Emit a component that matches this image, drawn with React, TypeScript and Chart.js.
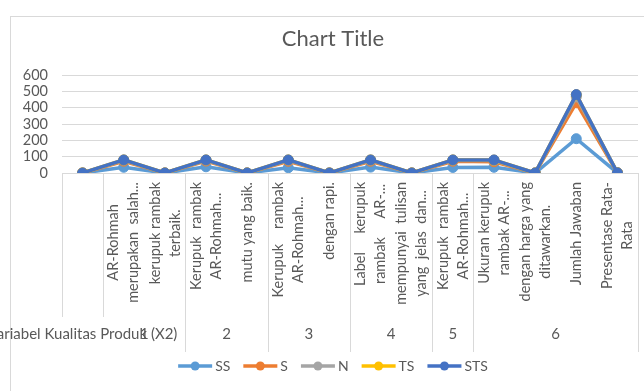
import React, { useEffect, useRef } from "react";
import { Chart, registerables } from "chart.js";

Chart.register(...registerables);

// ---------- data ----------
const categoryLines: string[][] = [
  [""],
  ["AR-Rohmah", "merupakan  salah..."],
  ["kerupuk rambak", "terbaik."],
  ["Kerupuk  rambak", "AR-Rohmah..."],
  ["mutu yang baik."],
  ["Kerupuk    rambak", "AR-Rohmah..."],
  ["dengan rapi."],
  ["Label     kerupuk", "rambak     AR-..."],
  ["mempunyai  tulisan", "yang  jelas  dan..."],
  ["Kerupuk  rambak", "AR-Rohmah..."],
  ["Ukuran kerupuk", "rambak AR-..."],
  ["dengan harga yang", "ditawarkan."],
  ["Jumlah Jawaban"],
  ["Presentase Rata-", "Rata"],
];

const groupLabels = ["Variabel Kualitas Produk (X2)", "1", "2", "3", "4", "5", "6"];
const groupFirst = [0, 1, 3, 5, 7, 9, 10];
const groupLast = [0, 2, 4, 6, 8, 9, 13];

const seriesNames = ["SS", "S", "N", "TS", "STS"];
const seriesColors = ["#5B9BD5", "#ED7D31", "#A5A5A5", "#FFC000", "#4472C4"];

const ssValues = [0, 35, 0, 38, 0, 32, 0, 36, 0, 34, 35, 0, 210, 0.44];
const sValues = [0, 37, 0, 35, 0, 40, 0, 36, 0, 38, 34, 0, 220, 0.46];
const nValues = [0, 6, 0, 5, 0, 6, 0, 6, 0, 6, 7, 0, 36, 0.07];
const tsValues = [0, 2, 0, 2, 0, 2, 0, 2, 0, 2, 3, 0, 13, 0.03];
const stsValues = [0, 0, 0, 0, 0, 0, 0, 0, 0, 0, 1, 0, 1, 0.0];

const yMin = 0;
const yMax = 600;
const yStep = 100;

const titleText = "Chart Title";

// ---------- styles ----------
const FONT = "Lato";
const TEXT_COLOR = "#595959";
const GRID_COLOR = "#d9d9d9";

export default function App() {
  const canvasRef = useRef<HTMLCanvasElement | null>(null);

  useEffect(() => {
    const canvas = canvasRef.current;
    if (!canvas) return;

    const raw = [ssValues, sValues, nValues, tsValues, stsValues];
    // stacked line: cumulative totals
    const cumulative: number[][] = [];
    raw.forEach((arr, si) => {
      cumulative.push(arr.map((v, i) => (si === 0 ? v : cumulative[si - 1][i] + v)));
    });

    const datasets = seriesNames.map((name, si) => ({
      label: name,
      data: cumulative[si],
      borderColor: seriesColors[si],
      backgroundColor: seriesColors[si],
      pointBackgroundColor: seriesColors[si],
      pointBorderColor: seriesColors[si],
      borderWidth: 3.5,
      pointRadius: 5,
      pointBorderWidth: 1,
      tension: 0,
      fill: false,
      order: seriesNames.length - 1 - si,
    }));

    const decor = {
      id: "excelDecor",
      beforeDraw(chart: any) {
        const ctx = chart.ctx;
        ctx.save();
        ctx.fillStyle = "#ffffff";
        ctx.fillRect(0, 0, chart.width, chart.height);
        ctx.restore();
      },
      afterDraw(chart: any) {
        const ctx = chart.ctx as CanvasRenderingContext2D;
        const area = chart.chartArea;
        const n = categoryLines.length;
        const band = (area.right - area.left) / n;
        const axisY = area.bottom;

        ctx.save();
        // chart border
        ctx.strokeStyle = GRID_COLOR;
        ctx.lineWidth = 1;
        ctx.strokeRect(10.5, 16.5, 700, 500);

        // title
        ctx.fillStyle = TEXT_COLOR;
        ctx.font = `22px ${FONT}`;
        ctx.textAlign = "center";
        ctx.textBaseline = "middle";
        ctx.fillText(titleText, 333, 39);

        // separators
        const shortSep = [0, 1];
        const longSep = [3, 5, 7, 9, 10, 14];
        ctx.strokeStyle = GRID_COLOR;
        ctx.beginPath();
        shortSep.forEach((k) => {
          const x = Math.round(area.left + k * band) + 0.5;
          ctx.moveTo(x, axisY);
          ctx.lineTo(x, 317);
        });
        longSep.forEach((k) => {
          const x = Math.round(area.left + k * band) + 0.5;
          ctx.moveTo(x, axisY);
          ctx.lineTo(x, 352);
        });
        ctx.stroke();

        // category labels (rotated)
        ctx.fillStyle = TEXT_COLOR;
        ctx.font = `14.5px ${FONT}`;
        const lineH = 20;
        categoryLines.forEach((lines, i) => {
          const cx = area.left + (i + 0.5) * band;
          const maxW = Math.max(...lines.map((l) => ctx.measureText(l).width));
          const top = axisY + 9;
          const ymid = top + maxW / 2;
          lines.forEach((line, j) => {
            const lx = cx + (j - (lines.length - 1) / 2) * lineH;
            ctx.save();
            ctx.translate(lx, ymid);
            ctx.rotate(-Math.PI / 2);
            ctx.textAlign = "center";
            ctx.textBaseline = "middle";
            ctx.fillText(line, 0, 0);
            ctx.restore();
          });
        });

        // group labels
        ctx.font = `15px ${FONT}`;
        ctx.textAlign = "center";
        ctx.textBaseline = "middle";
        groupLabels.forEach((g, gi) => {
          const x0 = area.left + groupFirst[gi] * band;
          const x1 = area.left + (groupLast[gi] + 1) * band;
          ctx.fillText(g, (x0 + x1) / 2, 334);
        });

        // legend
        ctx.font = `14px ${FONT}`;
        const lineLen = 34;
        const gap = 3;
        const spacing = 13;
        const widths = seriesNames.map((s) => ctx.measureText(s).width);
        const total =
          widths.reduce((a, b) => a + b, 0) + seriesNames.length * (lineLen + gap) + (seriesNames.length - 1) * spacing;
        let x = 333 - total / 2;
        const ly = 366;
        seriesNames.forEach((s, si) => {
          ctx.strokeStyle = seriesColors[si];
          ctx.lineWidth = 3.5;
          ctx.beginPath();
          ctx.moveTo(x, ly);
          ctx.lineTo(x + lineLen, ly);
          ctx.stroke();
          ctx.fillStyle = seriesColors[si];
          ctx.beginPath();
          ctx.arc(x + lineLen / 2, ly, 4.5, 0, Math.PI * 2);
          ctx.fill();
          ctx.fillStyle = TEXT_COLOR;
          ctx.textAlign = "left";
          ctx.fillText(s, x + lineLen + gap, ly);
          x += lineLen + gap + widths[si] + spacing;
        });
        ctx.restore();
      },
    };

    const chart = new Chart(canvas, {
      type: "line",
      data: {
        labels: categoryLines.map((l) => l.join(" ")),
        datasets: datasets as any,
      },
      options: {
        animation: false,
        responsive: false,
        maintainAspectRatio: false,
        layout: { padding: { top: 75, right: 6, left: 0, bottom: 0 } },
        plugins: {
          legend: { display: false },
          title: { display: false },
          tooltip: { enabled: false },
        },
        scales: {
          x: {
            offset: true,
            grid: { display: false },
            border: { display: false },
            ticks: { display: false },
            afterFit: (s: any) => {
              s.height = 218;
            },
          },
          y: {
            min: yMin,
            max: yMax,
            ticks: {
              stepSize: yStep,
              autoSkip: false,
              color: TEXT_COLOR,
              font: { family: FONT, size: 14.5 },
              padding: 14,
            },
            grid: { color: GRID_COLOR, drawTicks: false, lineWidth: 1 },
            border: { display: false },
            afterFit: (s: any) => {
              s.width = 62;
            },
          },
        },
      },
      plugins: [decor],
    });

    return () => chart.destroy();
  }, []);

  return (
    <div style={{ position: "fixed", left: 0, top: 0, width: 644, height: 391, background: "#fff" }}>
      <canvas ref={canvasRef} width={644} height={391} style={{ width: 644, height: 391, display: "block" }} />
    </div>
  );
}
